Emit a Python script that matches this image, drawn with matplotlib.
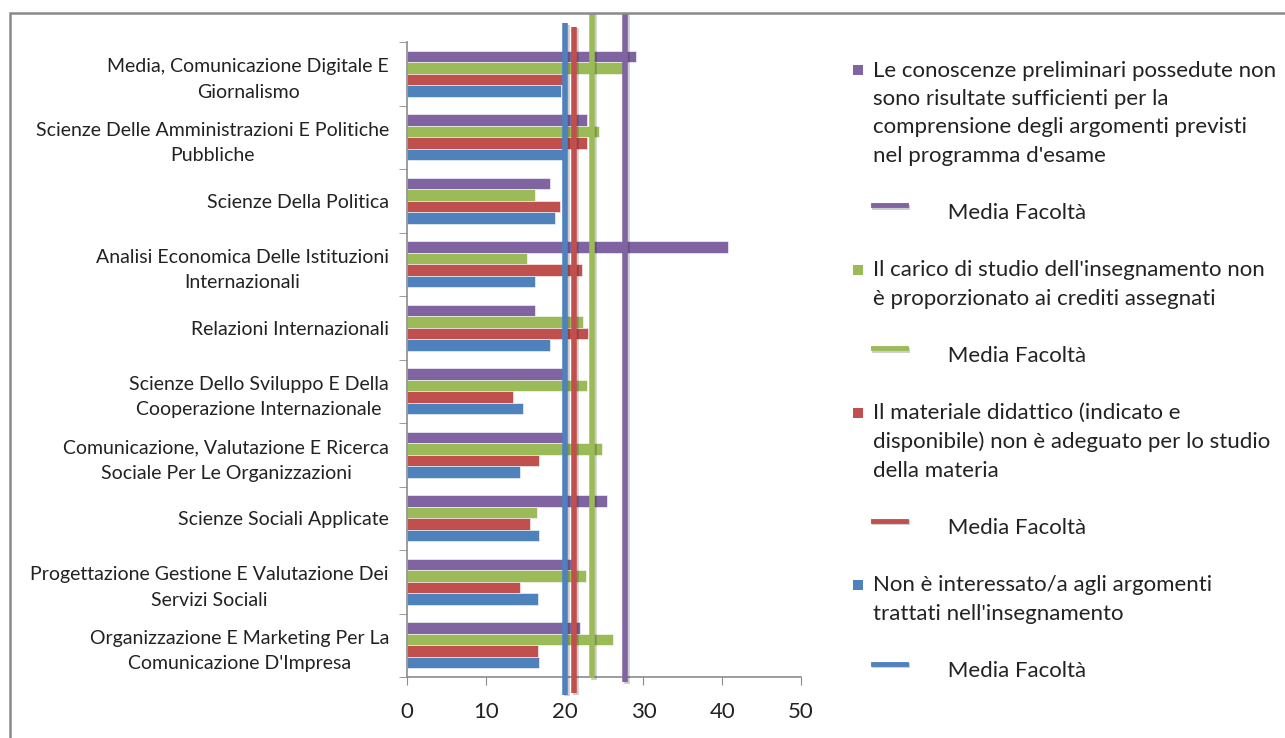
import numpy as np
import matplotlib.pyplot as plt
from matplotlib.patches import Patch, Rectangle
from matplotlib.lines import Line2D
from matplotlib.legend_handler import HandlerBase
import matplotlib.patheffects as pe

plt.rcParams['font.family'] = ['Lato', 'DejaVu Sans']

corsi = [
    "Media, Comunicazione Digitale E\nGiornalismo",
    "Scienze Delle Amministrazioni E Politiche\nPubbliche",
    "Scienze Della Politica",
    "Analisi Economica Delle Istituzioni\nInternazionali",
    "Relazioni Internazionali",
    "Scienze Dello Sviluppo E Della\nCooperazione Internazionale",
    "Comunicazione, Valutazione E Ricerca\nSociale Per Le Organizzazioni",
    "Scienze Sociali Applicate",
    "Progettazione Gestione E Valutazione Dei\nServizi Sociali",
    "Organizzazione E Marketing Per La\nComunicazione D'Impresa",
]

# values, top to bottom
conoscenze = [29.0, 22.8, 18.1, 40.7, 16.2, 19.9, 19.9, 25.4, 21.0, 22.0]
carico = [27.4, 24.4, 16.2, 15.2, 22.3, 22.8, 24.8, 16.5, 22.7, 26.1]
materiale = [19.9, 22.8, 19.4, 22.2, 23.0, 13.5, 16.8, 15.6, 14.4, 16.6]
interesse = [19.6, 20.0, 18.8, 16.3, 18.1, 14.7, 14.4, 16.8, 16.6, 16.8]

# media facolta (vertical lines)
media_conoscenze = 27.7
media_carico = 23.5
media_materiale = 21.2
media_interesse = 20.1

etichette = [
    "Le conoscenze preliminari possedute non\nsono risultate sufficienti per la\n"
    "comprensione degli argomenti previsti\nnel programma d'esame",
    "Il carico di studio dell'insegnamento non\nè proporzionato ai crediti assegnati",
    "Il materiale didattico (indicato e\ndisponibile) non è adeguato per lo studio\ndella materia",
    "Non è interessato/a agli argomenti\ntrattati nell'insegnamento",
]

viola = "#8064A2"
verde = "#9BBB59"
rosso = "#C0504D"
blu = "#4F81BD"

fig = plt.figure(figsize=(12.85, 7.38), dpi=100)
ax = fig.add_axes([407 / 1285, 61 / 738, 394 / 1285, 635 / 738])

y = np.arange(len(corsi))
h = 0.18
serie = [(conoscenze, viola, -1.5), (carico, verde, -0.5),
         (materiale, rosso, 0.5), (interesse, blu, 1.5)]
for vals, col, k in serie:
    ax.barh(y + k * h, vals, height=h, color=col, edgecolor="white",
            linewidth=0.4, zorder=2)

ombra = [pe.SimpleLineShadow(offset=(1.2, -1.2), alpha=0.2), pe.Normal()]
# (value, color, ymin, ymax) -- extents as in the original
for v, col, y0, y1 in [(media_interesse, blu, -0.028, 1.030),
                       (media_materiale, rosso, -0.025, 1.024),
                       (media_carico, verde, -0.002, 1.046),
                       (media_conoscenze, viola, -0.008, 1.046)]:
    ax.axvline(v, ymin=y0, ymax=y1, color=col, lw=4.0, clip_on=False,
               zorder=3, solid_capstyle="butt", path_effects=ombra)

ax.set_xlim(0, 50)
ax.set_ylim(len(corsi) - 0.5, -0.5)
ax.set_xticks([0, 10, 20, 30, 40, 50])
ax.tick_params(axis="x", labelsize=16, length=6, color="#8c8c8c",
               pad=12, labelcolor="#222222")

ax.set_yticks(y)
ax.set_yticklabels(corsi)
ax.set_yticks(np.arange(len(corsi) + 1) - 0.5, minor=True)
ax.tick_params(axis="y", which="major", length=0, labelsize=14, pad=13,
               labelcolor="#222222")
ax.tick_params(axis="y", which="minor", length=6, color="#8c8c8c")
for t in ax.get_yticklabels():
    t.set_multialignment("center")
    t.set_linespacing(1.6)

for s in ["top", "right"]:
    ax.spines[s].set_visible(False)
for s in ["left", "bottom"]:
    ax.spines[s].set_color("#8c8c8c")
    ax.spines[s].set_linewidth(1.2)

PASSO = 1.3  # legend line step, in units of font size


class LineaSpostata(HandlerBase):
    def create_artists(self, legend, orig, xdescent, ydescent, width, height,
                       fontsize, trans):
        yy = height / 2 - ydescent + 4
        ln = Line2D([width * 2.0, width * 5.3], [yy, yy], color=orig.get_color(),
                    lw=3.5, path_effects=ombra)
        ln.set_transform(trans)
        return [ln]


class QuadratoInAlto(HandlerBase):
    def create_artists(self, legend, orig, xdescent, ydescent, width, height,
                       fontsize, trans):
        n = orig.get_label().count("\n")
        lato = width
        yc = height / 2 - ydescent + n * 0.5 * fontsize * PASSO
        r = Rectangle((-xdescent, yc - lato / 2), lato, lato,
                      facecolor=orig.get_facecolor(), edgecolor="none")
        r.set_transform(trans)
        return [r]


handles = []
labels = []
for (vals, col, k), testo in zip(serie, etichette):
    handles.append(Patch(facecolor=col, edgecolor="none", label=testo))
    labels.append(testo)
    handles.append(Line2D([], [], color=col))
    labels.append("             Media Facoltà")

leg = fig.legend(handles, labels, loc="upper left",
                 bbox_to_anchor=(837 / 1285, 1 - 45 / 738), frameon=False,
                 fontsize=16, handlelength=0.45, handleheight=0.5,
                 handletextpad=0.45, labelspacing=1.68, borderpad=0.2,
                 handler_map={Line2D: LineaSpostata(), Patch: QuadratoInAlto()})
for t in leg.get_texts():
    t.set_color("#222222")
    t.set_linespacing(1.52)

# outer chart-area border
fig.patches.append(Rectangle((10 / 1285, -0.1), 1.2, 1.1 - 13 / 738,
                             transform=fig.transFigure, fill=False,
                             edgecolor="#8a8a8a", lw=1.8, zorder=0))

fig.savefig("out.png", dpi=100)
